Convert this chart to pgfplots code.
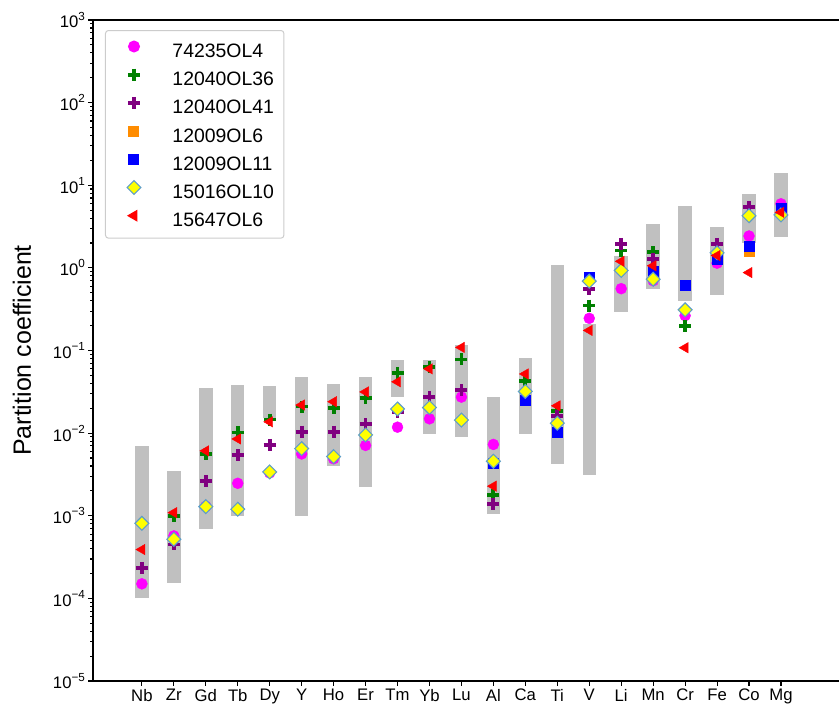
\documentclass[border=0pt]{standalone}
\usepackage{pgfplots}
\pgfplotsset{compat=1.18}
\usepackage{fontspec}
\setmainfont{Liberation Sans}
\definecolor{cmag}{RGB}{255,0,255}
\definecolor{cgreen}{RGB}{0,128,0}
\definecolor{cpurp}{RGB}{128,0,128}
\definecolor{corange}{RGB}{255,140,0}
\definecolor{cblue}{RGB}{0,0,255}
\definecolor{cyel}{RGB}{255,255,0}
\definecolor{cedge}{RGB}{95,158,200}
\definecolor{cred}{RGB}{255,0,0}
\definecolor{cbar}{RGB}{192,192,192}
\definecolor{cleg}{RGB}{204,204,204}
\newcommand\tickfont{\fontsize{16.7}{20}\selectfont}
\newcommand\legfont{\fontsize{19.4}{23}\selectfont}
\newcommand\labfont{\fontsize{25}{30}\selectfont}
\newcommand\pw[1]{10\raisebox{0.47em}{\fontsize{11.7}{12}\selectfont #1}}
\pgfplotsset{
 leg/.style={legend image code/.code={\path (0pt,0pt) (36pt,14pt);\draw[mark repeat=2,mark phase=2,##1] plot coordinates {(0pt,6pt) (18pt,6pt) (36pt,6pt)};}},
 gb/.style={draw=none, fill=cbar, forget plot},
}
\begin{document}
\begin{tikzpicture}
\begin{axis}[
 at={(0pt,0pt)}, anchor=south west,
 scale only axis, width=757pt, height=661pt,
 ymode=log, ymin=1e-5, ymax=1e3,
 xmin=-1.53, xmax=22.16,
 xtick={0,...,20},
 xticklabels={Nb,Zr,Gd,Tb,Dy,Y,Ho,Er,Tm,Yb,Lu,Al,Ca,Ti,V,Li,Mn,Cr,Fe,Co,Mg},
 ytick={1e-5,1e-4,1e-3,1e-2,1e-1,1,1e1,1e2,1e3},
 yticklabels={\pw{−5},\pw{−4},\pw{−3},\pw{−2},\pw{−1},\pw{0},\pw{1},\pw{2},\pw{3}},
 xticklabel style={font=\tickfont, inner ysep=3pt},
 yticklabel style={font=\tickfont, inner xsep=3pt},
 tick align=outside, tick pos=left,
 major tick length=4.9pt, minor tick length=2.8pt,
 tick style={line width=1.1pt, black},
 axis line style={line width=1.1pt},
 ylabel={Partition coefficient},
 ylabel style={font=\labfont, at={(axis description cs:-0.094,0.5)}, anchor=center},
 legend cell align=left,
 legend style={at={(0.01585,0.98487)}, anchor=north west, font=\legfont,
   draw=cleg, line width=1pt, rounded corners=3pt, fill=white,
   inner xsep=10pt, inner ysep=7.5pt, row sep=4.7pt,
   nodes={inner sep=0pt, text height=14pt, text depth=4pt},
   /tikz/every odd column/.append style={column sep=20pt}},
]
% grey ranges
\addplot[gb] coordinates {(-0.21,1e-4) (0.21,1e-4) (0.21,7e-3) (-0.21,7e-3)};
\addplot[gb] coordinates {(0.79,1.55e-4) (1.21,1.55e-4) (1.21,3.5e-3) (0.79,3.5e-3)};
\addplot[gb] coordinates {(1.79,7e-4) (2.21,7e-4) (2.21,0.035) (1.79,0.035)};
\addplot[gb] coordinates {(2.79,1e-3) (3.21,1e-3) (3.21,0.038) (2.79,0.038)};
\addplot[gb] coordinates {(3.79,0.0151) (4.21,0.0151) (4.21,0.037) (3.79,0.037)};
\addplot[gb] coordinates {(4.79,1e-3) (5.21,1e-3) (5.21,0.048) (4.79,0.048)};
\addplot[gb] coordinates {(5.79,4e-3) (6.21,4e-3) (6.21,0.039) (5.79,0.039)};
\addplot[gb] coordinates {(6.79,2.2e-3) (7.21,2.2e-3) (7.21,0.048) (6.79,0.048)};
\addplot[gb] coordinates {(7.79,0.0277) (8.21,0.0277) (8.21,0.077) (7.79,0.077)};
\addplot[gb] coordinates {(8.79,9.7e-3) (9.21,9.7e-3) (9.21,0.077) (8.79,0.077)};
\addplot[gb] coordinates {(9.79,8.9e-3) (10.21,8.9e-3) (10.21,0.117) (9.79,0.117)};
\addplot[gb] coordinates {(10.79,1.05e-3) (11.21,1.05e-3) (11.21,0.0274) (10.79,0.0274)};
\addplot[gb] coordinates {(11.79,9.7e-3) (12.21,9.7e-3) (12.21,0.082) (11.79,0.082)};
\addplot[gb] coordinates {(12.79,4.2e-3) (13.21,4.2e-3) (13.21,1.09) (12.79,1.09)};
\addplot[gb] coordinates {(13.79,3.1e-3) (14.21,3.1e-3) (14.21,0.208) (13.79,0.208)};
\addplot[gb] coordinates {(14.79,0.291) (15.21,0.291) (15.21,1.38) (14.79,1.38)};
\addplot[gb] coordinates {(15.79,0.55) (16.21,0.55) (16.21,3.44) (15.79,3.44)};
\addplot[gb] coordinates {(16.79,0.396) (17.21,0.396) (17.21,5.58) (16.79,5.58)};
\addplot[gb] coordinates {(17.79,0.474) (18.21,0.474) (18.21,3.16) (17.79,3.16)};
\addplot[gb] coordinates {(18.79,2.02) (19.21,2.02) (19.21,7.9) (18.79,7.9)};
\addplot[gb] coordinates {(19.79,2.36) (20.21,2.36) (20.21,13.9) (19.79,13.9)};
% 74235OL4
\addplot[only marks, leg, mark=*, mark size=5.5pt, color=cmag] coordinates {
 (0,1.5e-4) (1,5.7e-4) (2,1.3e-3) (3,2.47e-3) (4,3.3e-3) (5,5.6e-3) (6,4.9e-3)
 (7,7.1e-3) (8,0.0118) (9,0.0149) (10,0.0273) (11,7.3e-3) (14,0.245) (15,0.56)
 (16,0.70) (17,0.264) (18,1.14) (19,2.43) (20,5.96)};
\addlegendentry{74235OL4}
% 12040OL36
\addplot[only marks, leg, mark=+, mark size=6pt, color=cgreen, mark options={line width=3.8pt}] coordinates {
 (1,1.0e-3) (2,5.6e-3) (3,0.0102) (4,0.0146) (5,0.021) (6,0.020) (7,0.0266)
 (8,0.0535) (9,0.063) (10,0.078) (11,1.78e-3) (12,0.043) (13,0.0187) (14,0.35)
 (15,1.62) (16,1.55) (17,0.2)};
\addlegendentry{12040OL36}
% 12040OL41
\addplot[only marks, leg, mark=+, mark size=6pt, color=cpurp, mark options={line width=3.8pt}] coordinates {
 (0,2.34e-4) (1,4.5e-4) (2,2.64e-3) (3,5.4e-3) (4,7.2e-3) (5,0.0104) (6,0.0104)
 (7,0.0128) (8,0.018) (9,0.0273) (10,0.0329) (11,1.40e-3) (13,0.0162) (14,0.56)
 (15,1.95) (16,1.29) (18,1.95) (19,5.42)};
\addlegendentry{12040OL41}
% 12009OL6
\addplot[only marks, leg, mark=square*, mark size=5pt, color=corange] coordinates {
 (19,1.59)};
\addlegendentry{12009OL6}
% 12009OL11
\addplot[only marks, leg, mark=square*, mark size=5pt, color=cblue] coordinates {
 (11,4.3e-3) (12,0.025) (13,0.0104) (14,0.78) (16,0.91) (17,0.62) (18,1.29)
 (19,1.83) (20,5.27)};
\addlegendentry{12009OL11}
% 15016OL10
\addplot[only marks, leg, mark=square*, mark size=4.9pt, draw=cedge, fill=cyel, mark options={rotate=45, line width=1.1pt}] coordinates {
 (0,8.1e-4) (1,5.2e-4) (2,1.29e-3) (3,1.2e-3) (4,3.39e-3) (5,6.5e-3) (6,5.2e-3)
 (7,9.5e-3) (8,0.0196) (9,0.0204) (10,0.0144) (11,4.57e-3) (12,0.032) (13,0.0132)
 (14,0.69) (15,0.93) (16,0.73) (17,0.311) (18,1.52) (19,4.27) (20,4.37)};
\addlegendentry{15016OL10}
% 15647OL6
\addplot[only marks, leg, mark=triangle*, mark size=6pt, color=cred, mark options={rotate=90}] coordinates {
 (0,3.9e-4) (1,1.09e-3) (2,6.1e-3) (3,8.5e-3) (4,0.0137) (5,0.0219) (6,0.024)
 (7,0.0315) (8,0.0418) (9,0.060) (10,0.109) (11,2.28e-3) (12,0.052) (13,0.0214)
 (14,0.175) (15,1.20) (16,1.06) (17,0.108) (18,1.41) (19,0.877) (20,4.7)};
\addlegendentry{15647OL6}
\end{axis}
\pgfresetboundingbox
\useasboundingbox (-93pt,-25pt) rectangle (746pt,681pt);
\end{tikzpicture}
\end{document}
